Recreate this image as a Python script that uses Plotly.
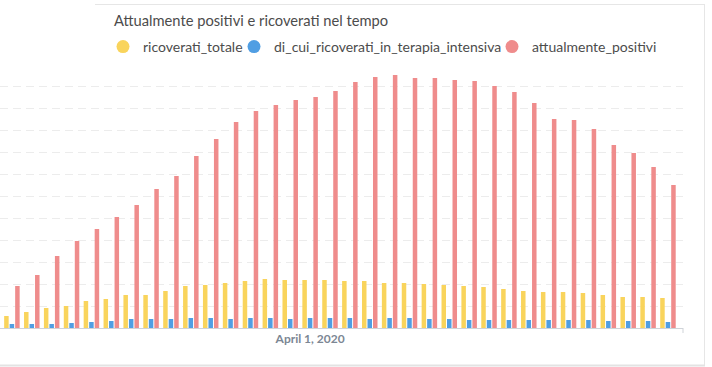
import pandas as pd
import plotly.graph_objects as go

# Dates (one group per day, first one partially cut at left edge)
dates = pd.date_range("2020-03-16", "2020-04-19", freq="D")

ricoverati_totale = [455, 545, 727, 909, 1000, 1227, 1318, 1500, 1500, 1682, 1909, 1955,
                     2045, 2136, 2227, 2182, 2182, 2182, 2136, 2136, 2045, 2045, 2000,
                     1955, 1909, 1864, 1773, 1682, 1636, 1636, 1591, 1500, 1409, 1409, 1364]
di_cui_ricoverati_in_terapia_intensiva = [136, 182, 182, 182, 227, 273, 318, 409, 409, 409,
                                          455, 455, 409, 455, 455, 409, 455, 455, 455, 409,
                                          455, 455, 409, 409, 364, 364, 364, 364, 364, 364,
                                          364, 318, 318, 318, 273]
attualmente_positivi = [1636, 1909, 2409, 3273, 3955, 4500, 5045, 5591, 6318, 6909, 7818,
                        8591, 9364, 9864, 10136, 10364, 10500, 10773, 11182, 11409, 11500,
                        11364, 11364, 11273, 11227, 11000, 10727, 10227, 9500, 9455, 9045,
                        8318, 7955, 7318, 6500]

series_names = ["ricoverati_totale", "di_cui_ricoverati_in_terapia_intensiva", "attualmente_positivi"]
series_values = [ricoverati_totale, di_cui_ricoverati_in_terapia_intensiva, attualmente_positivi]
series_colors = ["#F9D45C", "#509EE3", "#EF8C8C"]
legend_widths = [86, 213, 140]

tick_vals = ["2020-04-01"]
tick_text = ["April 1, 2020"]
chart_title = "Attualmente positivi e ricoverati nel tempo"

FONT = "Lato, 'Open Sans', sans-serif"

fig = go.Figure()
for name, vals, col in zip(series_names, series_values, series_colors):
    fig.add_trace(go.Bar(x=dates, y=vals, name=name, marker=dict(color=col, line=dict(width=0)),
                         showlegend=False))
# legend entries with round markers
for name, col, lw in zip(series_names, series_colors, legend_widths):
    fig.add_trace(go.Scatter(x=[None], y=[None], mode="markers", name=name, legendwidth=lw,
                             marker=dict(color=col, size=13, symbol="circle")))

W, H = 712, 367
ml, mr, mt, mb = 0, 29, 66, 39
pw, ph = W - ml - mr, H - mt - mb

def px_x(p):
    return (p - ml) / pw

def px_y(p):
    return (H - mb - p) / ph

border = "#e6e6e6"
shapes = [
    dict(type="line", xref="paper", yref="paper", x0=px_x(95), x1=px_x(704), y0=px_y(4.5), y1=px_y(4.5),
         line=dict(color=border, width=1)),
    dict(type="line", xref="paper", yref="paper", x0=px_x(704.5), x1=px_x(704.5), y0=px_y(4), y1=px_y(365),
         line=dict(color=border, width=1)),
    dict(type="line", xref="paper", yref="paper", x0=px_x(0), x1=px_x(705), y0=px_y(365.5), y1=px_y(365.5),
         line=dict(color="#e3e3e3", width=2)),
    dict(type="line", xref="paper", yref="paper", x0=1, x1=1, y0=0, y1=px_y(333),
         line=dict(color="#cfd3d8", width=1)),
]

fig.add_annotation(text=chart_title, xref="paper", yref="paper", x=px_x(112), y=px_y(20),
                   xanchor="left", yanchor="middle", showarrow=False,
                   font=dict(family=FONT, size=14.7, color="#4c4c4c"))

fig.update_layout(
    width=W, height=H,
    margin=dict(l=ml, r=mr, t=mt, b=mb),
    paper_bgcolor="white", plot_bgcolor="white",
    barmode="group", bargap=0.17, bargroupgap=0.18,
    font=dict(family=FONT, size=14, color="#4c4c4c"),
    shapes=shapes,
    showlegend=True,
    legend=dict(
        orientation="h", x=px_x(103), xanchor="left", y=px_y(31), yanchor="top",
        font=dict(size=14, color="#4c4c4c"),
        bgcolor="rgba(0,0,0,0)",
        itemwidth=30,
    ),
    xaxis=dict(
        type="date",
        range=["2020-03-16 09:38", "2020-04-19 18:10"],
        tickvals=tick_vals, ticktext=tick_text,
        ticks="", showgrid=False, zeroline=False,
        showline=True, linecolor="#cfd3d8", linewidth=1,
        tickfont=dict(family=FONT, size=12, color="#7c8794", weight="bold"),
    ),
    yaxis=dict(
        range=[0, 11909], dtick=1000, tick0=0,
        showticklabels=False, ticks="",
        showgrid=True, gridcolor="#ececec", griddash="8px,5px", gridwidth=1,
        zeroline=False, showline=False,
    ),
)

fig.write_html("out.html", config={"displayModeBar": False},
               post_script="document.body.style.margin='0';")
